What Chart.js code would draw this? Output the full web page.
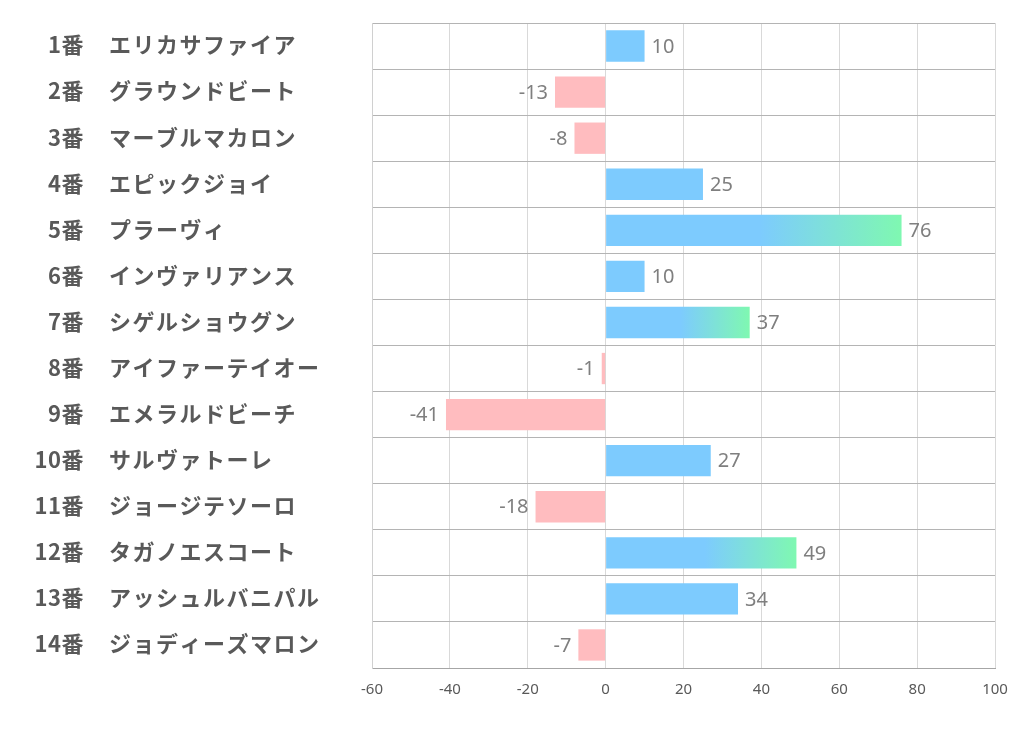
<!DOCTYPE html>
<html>
<head>
<meta charset="utf-8">
<script src="https://cdn.jsdelivr.net/npm/chart.js@4/dist/chart.umd.min.js"></script>
<style>
html,body{margin:0;padding:0;background:#fff;}
#wrap{position:relative;width:1022px;height:730px;}
</style>
</head>
<body>
<div id="wrap"><canvas id="c" width="1022" height="730"></canvas></div>
<script>
const numbers = ["1番","2番","3番","4番","5番","6番","7番","8番","9番","10番","11番","12番","13番","14番"];
const horses = ["エリカサファイア","グラウンドビート","マーブルマカロン","エピックジョイ","プラーヴィ","インヴァリアンス","シゲルショウグン","アイファーテイオー","エメラルドビーチ","サルヴァトーレ","ジョージテソーロ","タガノエスコート","アッシュルバニパル","ジョディーズマロン"];
const values = [10,-13,-8,25,76,10,37,-1,-41,27,-18,49,34,-7];
const xTicks = [-60,-40,-20,0,20,40,60,80,100];
const highlightThreshold = 35;

const BLUE = '#7dcbfe', GREEN = '#7ff8b1', PINK = '#ffbcbf';

function barColor(ctx){
  const v = values[ctx.dataIndex];
  if (v < 0) return PINK;
  if (v <= highlightThreshold) return BLUE;
  const chart = ctx.chart;
  const xs = chart.scales && chart.scales.x;
  if (!chart.chartArea || !xs) return BLUE;
  const x0 = xs.getPixelForValue(0), x1 = xs.getPixelForValue(v);
  const g = chart.ctx.createLinearGradient(x0, 0, x1, 0);
  g.addColorStop(0, BLUE);
  g.addColorStop(0.52, BLUE);
  g.addColorStop(1, GREEN);
  return g;
}

const labelPlugin = {
  id: 'labels',
  afterDatasetsDraw(chart){
    const c = chart.ctx;
    const ys = chart.scales.y;
    const meta = chart.getDatasetMeta(0);
    c.save();
    c.fillStyle = '#595959';
    c.textBaseline = 'middle';
    numbers.forEach((n,i)=>{
      const y = ys.getPixelForValue(i) - 1;
      c.font = 'bold 22px "Noto Sans CJK JP"';
      c.letterSpacing = '0.5px';
      c.textAlign = 'right';
      c.fillText(n, 84, y);
      c.textAlign = 'left';
      c.letterSpacing = '1.5px';
      c.fillText(horses[i], 109, y);
    });
    c.letterSpacing = '0px';
    c.fillStyle = '#7f7f7f';
    c.font = '20px "Noto Sans"';
    meta.data.forEach((bar,i)=>{
      const v = values[i];
      if (v >= 0){ c.textAlign='left'; c.fillText(String(v), bar.x + 7, bar.y + 1); }
      else { c.textAlign='right'; c.fillText(String(v), bar.x - 7, bar.y + 1); }
    });
    c.restore();
  }
};

new Chart(document.getElementById('c'), {
  type: 'bar',
  data: {
    labels: horses,
    datasets: [{
      data: values,
      backgroundColor: barColor,
      borderWidth: 0,
      barPercentage: 0.68,
      categoryPercentage: 1.0
    }]
  },
  options: {
    indexAxis: 'y',
    responsive: false,
    animation: false,
    devicePixelRatio: 1,
    layout: { padding: { left: 0, right: 27, top: 23, bottom: 0 } },
    plugins: { legend: { display: false }, tooltip: { enabled: false } },
    scales: {
      x: {
        min: -60, max: 100,
        afterBuildTicks(s){ s.ticks = xTicks.map(v=>({value:v})); },
        afterFit(s){ s.height = 62; },
        grid: { color: '#d9d9d9', lineWidth: 1, drawTicks: false },
        border: { color: '#a6a6a6', width: 1 },
        ticks: { color: '#595959', font: { family: '"Noto Sans"', size: 15 }, padding: 13, maxRotation: 0 }
      },
      y: {
        afterFit(s){ s.width = 372; },
        grid: { color: '#b4b4b4', lineWidth: 1, drawTicks: false, offset: true },
        border: { color: '#d0d0d0', width: 1 },
        ticks: { display: false }
      }
    }
  },
  plugins: [labelPlugin]
});
</script>
</body>
</html>
